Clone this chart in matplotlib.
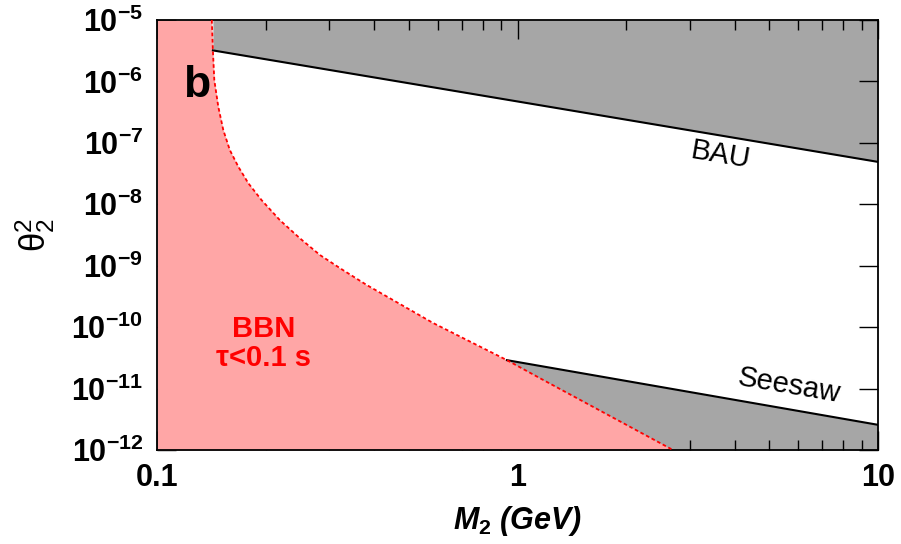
import numpy as np
import matplotlib
matplotlib.use('Agg')
import matplotlib.pyplot as plt
from matplotlib.ticker import FixedLocator, NullLocator, FuncFormatter

plt.rcParams['font.family'] = ['Liberation Sans', 'DejaVu Sans']
plt.rcParams['mathtext.fontset'] = 'custom'
plt.rcParams['mathtext.rm'] = 'Liberation Sans'
plt.rcParams['mathtext.bf'] = 'Liberation Sans:bold'
plt.rcParams['mathtext.it'] = 'Liberation Sans:bold:italic'

# BBN bound (tau < 0.1 s)
bbn_M = [0.1419, 0.1429, 0.1442, 0.1479, 0.1527, 0.1592, 0.1681, 0.1792, 0.1950,
         0.2193, 0.2492, 0.2833, 0.3220, 0.3818, 0.583, 0.935, 1.153, 2.70]
bbn_t = [1e-5, 3.2e-6, 1.05e-6, 3.88e-7, 1.62e-7, 7.65e-8, 4.09e-8, 2.2e-8, 1.17e-8,
         5.5e-9, 2.79e-9, 1.49e-9, 9.1e-10, 4.85e-10, 1.17e-10, 2.9e-11, 1.48e-11, 1e-12]

# BAU upper bound
bau_M = [0.1429, 10.0]
bau_t = [3.2e-6, 4.9e-8]

# seesaw lower bound
seesaw_M = [0.935, 10.0]
seesaw_t = [2.9e-11, 2.57e-12]

xlim = (0.1, 10)
ylim = (1e-12, 1e-5)
xticks = [0.1, 1, 10]
xticklabels = ['0.1', '1', '10']
yticks = [1e-12, 1e-11, 1e-10, 1e-9, 1e-8, 1e-7, 1e-6, 1e-5]

pink = '#ffa6a6'
grey = '#a6a6a6'

fig = plt.figure(figsize=(9.01, 5.44), dpi=100)
ax = fig.add_axes([157/901, 1-450/544, (878-157)/901, (450-20)/544])
ax.set_xscale('log')
ax.set_yscale('log')
ax.set_xlim(*xlim)
ax.set_ylim(*ylim)

ax.fill_between(bau_M, bau_t, ylim[1], color=grey, lw=0, zorder=1)
ax.fill_between(seesaw_M, ylim[0], seesaw_t, color=grey, lw=0, zorder=1)
ax.fill_betweenx(bbn_t, xlim[0], bbn_M, color=pink, lw=0, zorder=2)

ax.plot(bau_M, bau_t, color='black', lw=1.5, zorder=3)
ax.plot(seesaw_M, seesaw_t, color='black', lw=1.5, zorder=3)
ax.plot(bbn_M, bbn_t, color='red', lw=1.3, ls=(0, (2, 1.5)), zorder=4)

ax.text(0.129, 8.5e-7, 'b', fontsize=32, fontweight='bold', ha='center', va='center', zorder=5)
ax.text(3.65, 6.3e-8, 'BAU', fontsize=21, rotation=-9.6, ha='center', va='center', zorder=5)
ax.text(5.66, 1.1e-11, 'Seesaw', fontsize=21, rotation=-9.6, ha='center', va='center', zorder=5)
ax.text(0.198, 5.5e-11, 'BBN\n\u03c4<0.1 s', fontsize=21, fontweight='bold', color='red',
        ha='center', va='center', linespacing=1.05, zorder=5)

ax.xaxis.set_major_locator(FixedLocator(xticks))
ax.xaxis.set_major_formatter(FuncFormatter(lambda v, p: xticklabels[xticks.index(v)] if v in xticks else ''))
ax.yaxis.set_major_locator(FixedLocator(yticks))
ax.yaxis.set_minor_locator(NullLocator())
ax.yaxis.set_major_formatter(FuncFormatter(lambda v, p: r'$\mathbf{10^{%d}}$' % round(np.log10(v))))

ax.tick_params(which='both', direction='in', top=True, right=True, width=1.0, labelsize=22)
ax.tick_params(which='major', length=14)
ax.tick_params(which='minor', length=7)
ax.tick_params(axis='y', pad=10)
ax.tick_params(axis='x', pad=9)
for lab in ax.get_xticklabels():
    lab.set_fontweight('bold')
for s in ax.spines.values():
    s.set_linewidth(1.3)

ax.set_xlabel(r'$M_{\mathbf{2}}$ (GeV)', fontsize=22, fontweight='bold', fontstyle='italic', labelpad=8)
ax.set_ylabel('\u03b8$_2^2$', fontsize=25, labelpad=10)

fig.savefig('out.png', dpi=100)
